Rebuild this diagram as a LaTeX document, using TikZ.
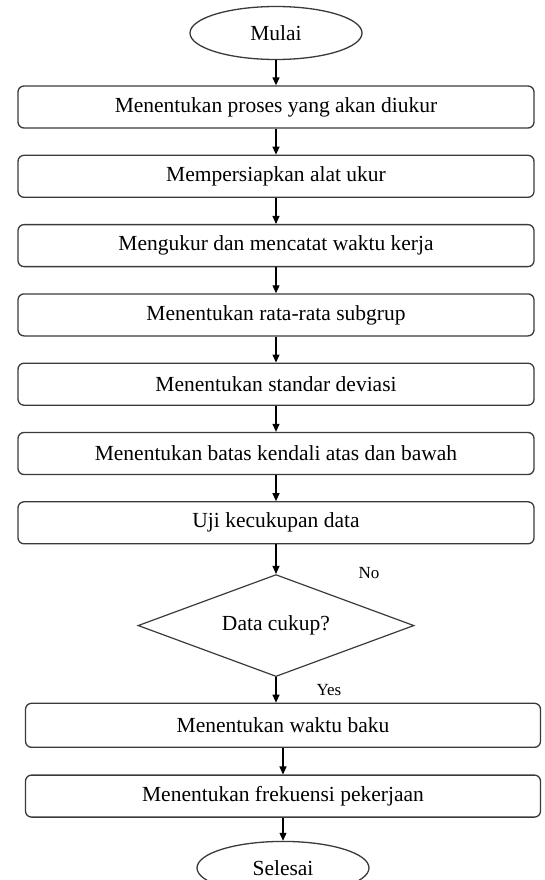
\documentclass[tikz,border=0pt]{standalone}
\usepackage{fontspec}
\setmainfont{Liberation Serif}
\usepackage{tikz}
\usetikzlibrary{
  positioning,
  shapes.geometric,
  arrows.meta}
\definecolor{linegray}{HTML}{3A3A3A}
\tikzset{every picture/.style={font issue=\fontsize{21.5}{25}},
         font issue/.style={execute at begin picture={#1\selectfont}}
        }
\tikzset{
  flowbox/.style={draw=linegray, line width=1.3pt, rounded corners=6pt,
                  minimum width=516pt, minimum height=42pt, inner sep=0pt},
  terminal/.style={draw=linegray, line width=1.3pt, ellipse,
                   minimum width=172pt, minimum height=53pt, inner sep=0pt},
  decision/.style={draw=linegray, line width=1.2pt, diamond, aspect=2.7,
                   minimum width=276pt, minimum height=102pt, inner sep=0pt},
  flow/.style={->, >={Triangle[length=8pt,width=7pt]}, line width=1.2pt},
  answer/.style={font=\fontsize{17}{20}\selectfont, inner sep=0pt}
}

\begin{document}
\begin{tikzpicture}[x=1pt, y=-1pt]
\useasboundingbox (0,0) rectangle (545,880);
\node[terminal] (mulai) at (276,33) {Mulai};
\node[flowbox] (proses) at (276,107) {Menentukan proses yang akan diukur};
\node[flowbox, below=26pt of proses] (alat) {Mempersiapkan alat ukur};
\node[flowbox, below=26pt of alat] (catat) {Mengukur dan mencatat waktu kerja};
\node[flowbox, below=26pt of catat] (ratarata) {Menentukan rata-rata subgrup};
\node[flowbox, below=26pt of ratarata] (deviasi) {Menentukan standar deviasi};
\node[flowbox, below=26pt of deviasi] (batas) {Menentukan batas kendali atas dan bawah};
\node[flowbox, below=26pt of batas] (uji) {Uji kecukupan data};
\node[decision, below=29.5pt of uji] (cukup) {Data cukup?};
\node[flowbox, minimum width=515pt, minimum height=44pt, below=25.5pt of cukup, xshift=7pt] (baku) {Menentukan waktu baku};
\node[flowbox, minimum width=515pt, below=26.5pt of baku] (frekuensi) {Menentukan frekuensi pekerjaan};
\node[terminal, below=23pt of frekuensi] (selesai) {Selesai};
\node[answer] (no) at ([xshift=93pt, yshift=1pt]cukup.north) {No};

\foreach \from/\to in {mulai/proses, proses/alat, alat/catat, catat/ratarata,
                       ratarata/deviasi, deviasi/batas, batas/uji, uji/cukup,
                       baku/frekuensi, frekuensi/selesai}
  \draw[flow] (\from) -- (\to);
\draw[flow] (cukup.south) -- node[answer, right=40pt, pos=0.5]{Yes} (cukup.south |- baku.north);
\end{tikzpicture}
\end{document}
